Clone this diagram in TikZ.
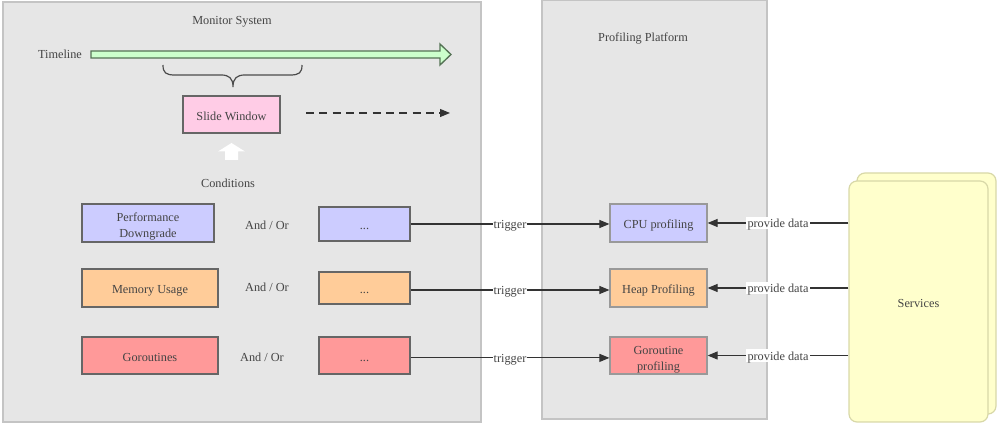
\documentclass[tikz,border=0pt]{standalone}
\usepackage{fontspec}
\setmainfont{Liberation Serif}
\usetikzlibrary{arrows.meta}
\definecolor{panelfill}{HTML}{E6E6E6}
\definecolor{panelline}{HTML}{C4C4C4}
\definecolor{txt}{HTML}{444444}
\definecolor{bluef}{HTML}{CCCCFF}
\definecolor{orangef}{HTML}{FFCC99}
\definecolor{redf}{HTML}{FF9999}
\definecolor{pinkf}{HTML}{FFCCE6}
\definecolor{yellowf}{HTML}{FFFFCC}
\definecolor{yellowl}{HTML}{D8D8A8}
\definecolor{greenf}{HTML}{CCFFCC}
\definecolor{greenl}{HTML}{557355}
\definecolor{conn}{HTML}{333333}
\begin{document}
\begin{tikzpicture}[x=0.75pt,y=-0.75pt,
  every node/.style={font=\fontsize{9.2}{12}\selectfont, text=txt},
  panel/.style={draw=panelline, fill=panelfill, line width=0.8pt},
  box/.style={draw=#1, line width=0.9pt, rectangle, inner sep=2pt, align=center},
  one/.style={text height=8.4pt, text depth=0pt},
  leftbox/.style={box=black!60},
  rightbox/.style={box=black!40},
  conline/.style={draw=conn, line width=0.8pt, -{Triangle[length=7.5pt,width=6pt]}},
  lbl/.style={fill=white, inner sep=0.8pt, text height=7.8pt, text depth=0.3pt},
  plain/.style={inner sep=0pt, text height=7.8pt, text depth=0.3pt},
  two/.style={label={[align=center, text=txt, yshift=-3pt]center:#1}}
]
\useasboundingbox (0,0) rectangle (1000,427);
% panels
\path[panel] (3,2) rectangle (481,422);
\path[panel] (542,0.5) rectangle (767,419);
\node[plain] (mstitle) at (232,20) {Monitor System};
\node[plain] (pptitle) at (643,37) {Profiling Platform};
% timeline
\node[plain] (tl) at (60,54) {Timeline};
\draw[draw=greenl, fill=greenf, line width=1pt, line join=miter]
  (91,51) -- (440,51) -- (440,44) -- (451,54.5) -- (440,65) -- (440,58) -- (91,58) -- cycle;
% brace
\draw[draw=black!70, line width=0.9pt]
  (163,65) .. controls (163,73) and (166,75) .. (175,75) -- (221,75)
  .. controls (229,75) and (233,78) .. (233,87)
  .. controls (233,78) and (237,75) .. (245,75) -- (290,75)
  .. controls (299,75) and (302,73) .. (302,65);
% slide window
\node[leftbox, one, fill=pinkf, minimum width=97*0.75pt, minimum height=37*0.75pt] (sw) at (231.5,114.5) {Slide Window};
\coordinate (dashs) at (306,113);
\coordinate (dashe) at (450,113);
\draw[conn, line width=0.8pt, dash pattern=on 6pt off 4pt, -{Triangle[length=7.5pt,width=6pt]}] (dashs) -- (dashe);
% white up arrow
\fill[white] (225,160) -- (225,151.5) -- (218,151.5) -- (231.5,143) -- (245,151.5) -- (238,151.5) -- (238,160) -- cycle;
\node[plain] (cond) at (228,183) {Conditions};
% condition boxes
\node[leftbox, fill=bluef, minimum width=132*0.75pt, minimum height=38*0.75pt, two={Performance\\Downgrade}] (perf) at (148,223) {};
\node[leftbox, one, fill=orangef, minimum width=136*0.75pt, minimum height=38*0.75pt] (mem) at (150,288) {Memory Usage};
\node[leftbox, one, fill=redf, minimum width=136*0.75pt, minimum height=37*0.75pt] (gor) at (150,355.5) {Goroutines};
\node[plain] (ao1) at (267,225) {And / Or};
\node[plain] (ao2) at (267,287) {And / Or};
\node[plain] (ao3) at (262,357) {And / Or};
\node[leftbox, one, fill=bluef, minimum width=91*0.75pt, minimum height=34*0.75pt] (d1) at (364.5,224) {...};
\node[leftbox, one, fill=orangef, minimum width=91*0.75pt, minimum height=32*0.75pt] (d2) at (364.5,288) {...};
\node[leftbox, one, fill=redf, minimum width=91*0.75pt, minimum height=37*0.75pt] (d3) at (364.5,355.5) {...};
% profiling boxes
\node[rightbox, one, fill=bluef, minimum width=97*0.75pt, minimum height=38*0.75pt] (cpu) at (658.5,223) {CPU profiling};
\node[rightbox, one, fill=orangef, minimum width=97*0.75pt, minimum height=38*0.75pt] (heap) at (658.5,288) {Heap Profiling};
\node[rightbox, fill=redf, minimum width=97*0.75pt, minimum height=37*0.75pt, two={Goroutine\\profiling}] (gp) at (658.5,355.5) {};
% services
\node[draw=yellowl, fill=yellowf, line width=0.9pt, rounded corners=6pt, minimum width=139*0.75pt, minimum height=241*0.75pt] (svcback) at (926.5,293.5) {};
\node[draw=yellowl, fill=yellowf, line width=0.9pt, rounded corners=6pt, minimum width=139*0.75pt, minimum height=241*0.75pt, one] (svc) at (918.5,301.5) {Services};
% connectors
\draw[conline] (d1.east) -- node[lbl] {trigger} (d1.east -| cpu.west);
\draw[conline] ([yshift=-1.5pt]d2.east) -- node[lbl] {trigger} ([yshift=-1.5pt]d2.east -| heap.west);
\draw[conline] ([yshift=-1.8pt]d3.east) -- node[lbl] {trigger} ([yshift=-1.8pt]d3.east -| gp.west);
\draw[conline] (svc.west |- cpu.east) -- node[lbl] {provide data} (cpu.east);
\draw[conline] (svc.west |- heap.east) -- node[lbl] {provide data} (heap.east);
\draw[conline] (svc.west |- gp.east) -- node[lbl] {provide data} (gp.east);
\end{tikzpicture}
\end{document}
